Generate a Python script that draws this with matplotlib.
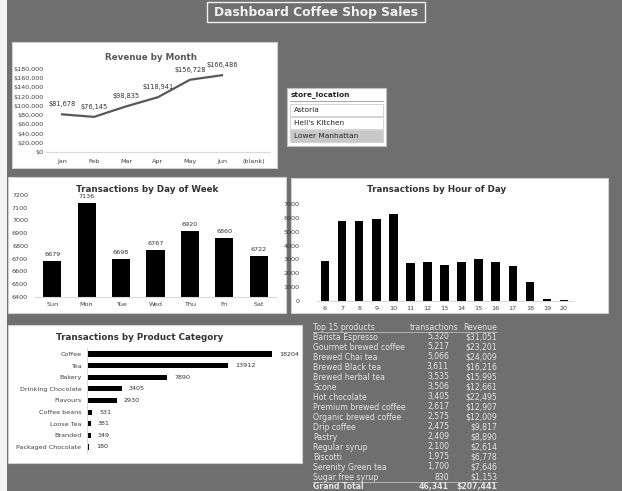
import matplotlib
matplotlib.use("Agg")
import matplotlib.pyplot as plt
from matplotlib.patches import Rectangle

plt.rcParams["font.family"] = ["DejaVu Sans"]

# ---- data ----
months = ["Jan", "Feb", "Mar", "Apr", "May", "Jun", "(blank)"]
revenue = [81678, 76145, 98835, 118941, 156728, 166486]

days = ["Sun", "Mon", "Tue", "Wed", "Thu", "Fri", "Sat"]
day_tx = [6679, 7136, 6698, 6767, 6920, 6860, 6722]

hours = list(range(6, 21))
hour_tx = [2900, 5800, 5800, 5900, 6300, 2730, 2800, 2630, 2850, 3040,
           2780, 2510, 1400, 120, 50]

categories = ["Coffee", "Tea", "Bakery", "Drinking Chocolate", "Flavours",
              "Coffee beans", "Loose Tea", "Branded", "Packaged Chocolate"]
cat_tx = [18204, 13912, 7890, 3405, 2930, 531, 381, 349, 180]

stores = ["Astoria", "Hell's Kitchen", "Lower Manhattan"]

products = ["Barista Espresso", "Gourmet brewed coffee", "Brewed Chai tea",
            "Brewed Black tea", "Brewed herbal tea", "Scone", "Hot chocolate",
            "Premium brewed coffee", "Organic brewed coffee", "Drip coffee",
            "Pastry", "Regular syrup", "Biscotti", "Serenity Green tea",
            "Sugar free syrup"]
prod_tx = [5320, 5217, 5066, 3611, 3535, 3506, 3405, 2617, 2575, 2475,
           2409, 2100, 1975, 1700, 830]
prod_rev = [31051, 23201, 24009, 16216, 15995, 12661, 22495, 12907, 12009,
            9817, 8890, 2614, 6778, 7646, 1153]
total_tx = 46341
total_rev = 207441

W, H = 622, 491
BG = "#6f6f6f"
DARK = "#595959"
TICK = "#404040"
AXIS = "#d9d9d9"
TITLE_FS = 6.3
TICK_FS = 4.6


def box(x0, y0, x1, y1):
    """pixel box (top-left origin) -> figure fraction rect"""
    return [x0 / W, 1 - y1 / H, (x1 - x0) / W, (y1 - y0) / H]


def panel(fig, x0, y0, x1, y1, face="white", edge="#d0d0d0", lw=0.8, z=-10):
    r = box(x0, y0, x1, y1)
    fig.patches.append(Rectangle((r[0], r[1]), r[2], r[3], transform=fig.transFigure,
                                 facecolor=face, edgecolor=edge, linewidth=lw, zorder=z))


def px(x, y):
    return x / W, 1 - y / H


def clean(ax):
    for s in ["top", "right", "left"]:
        ax.spines[s].set_visible(False)
    ax.spines["bottom"].set_color(AXIS)
    ax.spines["bottom"].set_linewidth(0.8)
    ax.tick_params(length=0, labelsize=TICK_FS, colors=TICK)
    ax.set_facecolor("none")


fig = plt.figure(figsize=(W / 100, H / 100), dpi=100)
fig.patch.set_facecolor(BG)
panel(fig, 0, 0, 6.5, H, face="#f4f4f4", edge="none")

# title
panel(fig, 207, 2, 425, 22, face="none", edge="#f0f0f0", lw=1.0)
fig.text(*px(316, 12.5), "Dashboard Coffee Shop Sales", color="#f2f2f2",
         fontsize=8.8, fontweight="bold", ha="center", va="center")

# ---- revenue by month ----
panel(fig, 12, 42, 277, 168)
fig.text(*px(151, 57), "Revenue by Month", color=DARK, fontsize=TITLE_FS,
         fontweight="bold", ha="center", va="center")
ax = fig.add_axes(box(46, 69, 270, 152))
ax.plot(range(len(revenue)), revenue, color=DARK, lw=1.6)
for i, v in enumerate(revenue):
    ax.annotate(f"${v:,.0f}", (i, v), xytext=(0, 5), textcoords="offset points",
                ha="center", va="bottom", fontsize=4.8, color="#333333")
ax.set_xlim(-0.5, len(months) - 0.5)
ax.set_ylim(0, 180000)
ax.set_xticks(range(len(months)))
ax.set_xticklabels(months)
ax.set_yticks(range(0, 180001, 20000))
ax.set_yticklabels([f"${t:,.0f}" for t in range(0, 180001, 20000)])
clean(ax)
ax.tick_params(axis="x", pad=5)
ax.tick_params(axis="y", pad=1.5)

# ---- slicer ----
panel(fig, 287, 88, 386, 146, edge="#bfbfbf")
fig.text(*px(291, 95), "store_location", fontsize=5.3, fontweight="bold",
         color="#222222", ha="left", va="center")
fig.lines.append(plt.Line2D([290 / W, 383 / W], [1 - 101 / H] * 2,
                            transform=fig.transFigure, color="#999999", lw=0.6))
for i, s in enumerate(stores):
    y0 = 104 + i * 13.2
    sel = i == len(stores) - 1
    panel(fig, 290, y0, 383, y0 + 11.5, face="#c8c8c8" if sel else "white",
          edge="#cfcfcf", lw=0.6, z=-5)
    fig.text(*px(294, y0 + 6), s, fontsize=5.3, color="#222222",
             ha="left", va="center")

# ---- transactions by day of week ----
panel(fig, 8, 177, 286, 313)
fig.text(*px(147, 189), "Transactions by Day of Week", color="#333333",
         fontsize=TITLE_FS, fontweight="bold", ha="center", va="center")
ax = fig.add_axes(box(35, 195, 276, 297))
ax.bar(range(len(days)), day_tx, width=0.53, color="black")
for i, v in enumerate(day_tx):
    ax.annotate(str(v), (i, v), xytext=(0, 3), textcoords="offset points",
                ha="center", va="bottom", fontsize=4.6, color="#333333")
ax.set_xlim(-0.5, len(days) - 0.5)
ax.set_ylim(6400, 7200)
ax.set_yticks(range(6400, 7201, 100))
ax.set_xticks(range(len(days)))
ax.set_xticklabels(days)
clean(ax)
ax.tick_params(axis="y", pad=5)

# ---- transactions by hour ----
panel(fig, 291, 178, 608, 313)
fig.text(*px(437, 190), "Transactions by Hour of Day", color="#333333",
         fontsize=TITLE_FS, fontweight="bold", ha="center", va="center")
ax = fig.add_axes(box(316.5, 204, 572.5, 301))
ax.bar(hours, hour_tx, width=0.5, color="black")
ax.set_xlim(5.5, 20.5)
ax.set_ylim(0, 7000)
ax.set_yticks(range(0, 7001, 1000))
ax.set_xticks(hours)
clean(ax)
ax.tick_params(axis="y", pad=12)

# ---- transactions by product category ----
panel(fig, 8, 325, 302, 463)
fig.text(*px(140, 337), "Transactions by Product Category", color="#333333",
         fontsize=TITLE_FS, fontweight="bold", ha="center", va="center")
ax = fig.add_axes(box(87, 348.2, 287, 452.8))
ax.barh(range(len(categories)), cat_tx, height=0.45, color="black")
for i, v in enumerate(cat_tx):
    ax.annotate(str(v), (v, i), xytext=(5, 0), textcoords="offset points",
                ha="left", va="center", fontsize=4.6, color="#333333")
ax.set_ylim(len(categories) - 0.5, -0.5)
ax.set_xlim(0, 18204 * 200 / 185)
ax.set_yticks(range(len(categories)))
ax.set_yticklabels(categories)
ax.set_xticks([])
for s in ["top", "right", "bottom"]:
    ax.spines[s].set_visible(False)
ax.spines["left"].set_color(AXIS)
ax.tick_params(length=0, labelsize=TICK_FS, colors=TICK, pad=4)
ax.set_facecolor("none")

# ---- top 15 products table ----
TXT = "#e4e4e4"
fs = 5.6
fig.text(*px(313, 327), "Top 15 products", fontsize=fs, color=TXT, ha="left", va="center")
fig.text(*px(458, 327), "transactions", fontsize=fs, color=TXT, ha="right", va="center")
fig.text(*px(497, 327), "Revenue", fontsize=fs, color=TXT, ha="right", va="center")
fig.lines.append(plt.Line2D([313 / W, 497 / W], [1 - 331.5 / H] * 2,
                            transform=fig.transFigure, color="#bdbdbd", lw=0.6))
for i, (p, t, r) in enumerate(zip(products, prod_tx, prod_rev)):
    y = 337 + i * 10
    fig.text(*px(313, y), p, fontsize=fs, color=TXT, ha="left", va="center")
    fig.text(*px(449, y), f"{t:,}", fontsize=fs, color=TXT, ha="right", va="center")
    fig.text(*px(497, y), f"${r:,}", fontsize=fs, color=TXT, ha="right", va="center")
fig.lines.append(plt.Line2D([313 / W, 497 / W], [1 - 481.5 / H] * 2,
                            transform=fig.transFigure, color="#bdbdbd", lw=0.6))
fig.text(*px(313, 486.5), "Grand Total", fontsize=fs, color=TXT, ha="left",
         va="center", fontweight="bold")
fig.text(*px(449, 486.5), f"{total_tx:,}", fontsize=fs, color=TXT, ha="right",
         va="center", fontweight="bold")
fig.text(*px(497, 486.5), f"${total_rev:,}", fontsize=fs, color=TXT, ha="right",
         va="center", fontweight="bold")

fig.savefig("out.png", dpi=100, facecolor=BG)
